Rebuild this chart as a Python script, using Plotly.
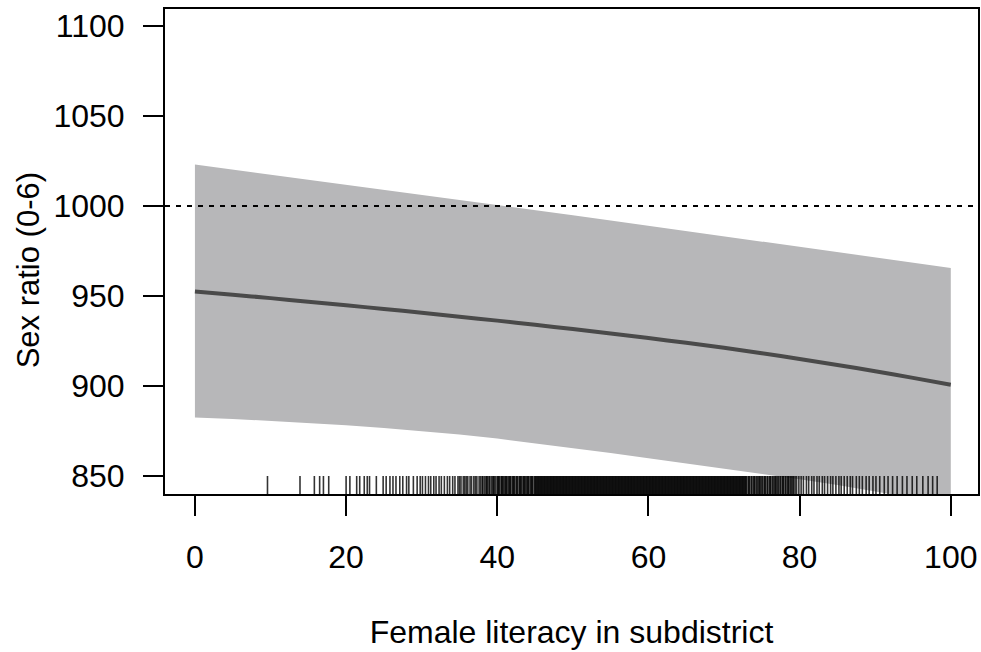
import plotly.graph_objects as go

# ---- data ----
x_grid = [0, 5, 10, 15, 20, 25, 30, 35, 40, 45, 50, 55, 60, 65, 70, 75, 80, 85, 90, 95, 100]
fit = [952.5, 950.7, 948.8, 946.8, 944.8, 942.8, 940.7, 938.5, 936.3, 934.0, 931.6,
       929.2, 926.6, 924.0, 921.2, 918.2, 915.0, 911.7, 908.2, 904.5, 900.7]
upper = [1023.0, 1020.2, 1017.5, 1014.7, 1012.0, 1009.1, 1006.2, 1003.3, 1000.5, 997.6, 994.8,
         991.9, 989.0, 986.0, 983.0, 980.2, 977.5, 974.5, 971.5, 968.5, 965.6]
lower = [882.5, 881.7, 880.6, 879.5, 878.2, 876.7, 875.0, 873.0, 870.8, 868.3, 865.6,
         862.8, 859.8, 856.8, 853.8, 851.0, 848.2, 845.0, 841.5, 837.9, 834.2]
ref_value = 1000

rug = [
    9.6, 13.9, 15.8, 16.5, 17.0, 17.7, 20.0, 20.5, 21.4, 21.8, 22.4, 22.8, 23.1, 24.0,
    24.9, 25.3, 25.8, 26.2, 26.6, 27.1, 27.5, 28.0, 28.3, 28.9, 29.4, 29.8,
    30.1, 30.5, 30.9, 31.2, 31.6, 31.9, 32.3, 32.6, 33.0, 33.4, 33.7, 34.1, 34.4, 34.8,
    35.0, 35.2, 35.5, 35.7, 35.9, 36.1, 36.4, 36.6, 36.9, 37.1, 37.3, 37.6, 37.8, 38.0,
    38.3, 38.5, 38.7, 38.9, 39.2, 39.4, 39.6, 39.8,
    40.0, 40.1, 40.3, 40.5, 40.6, 40.8, 41.0, 41.1, 41.3, 41.5, 41.7, 41.8, 42.0, 42.2,
    42.3, 42.5, 42.7, 42.9, 43.0, 43.2, 43.4, 43.5, 43.7, 43.9, 44.0, 44.2, 44.4, 44.5,
    44.7, 44.9, 45.0, 45.2, 45.3, 45.5, 45.7, 45.8, 46.0, 46.2, 46.3, 46.5, 46.7, 46.8,
    47.0, 47.2, 47.3, 47.5, 47.7, 47.9, 48.1, 48.2, 48.4, 48.6, 48.8, 49.0, 49.1, 49.3,
    49.5, 49.7, 49.9, 50.0, 50.2, 50.4, 50.6, 50.8, 50.9, 51.1, 51.3, 51.5, 51.7, 51.8,
    52.0, 52.2, 52.4, 52.6, 52.7, 52.9, 53.1, 53.3, 53.5, 53.6, 53.8, 54.0, 54.2, 54.4,
    54.5, 54.7, 54.9, 55.1, 55.3, 55.4, 55.6, 55.8, 56.0, 56.2, 56.3, 56.5, 56.7, 56.9,
    57.1, 57.2, 57.4, 57.6, 57.8, 58.0, 58.1, 58.3, 58.5, 58.7, 58.9, 59.0, 59.2, 59.4,
    59.6, 59.8, 59.9, 60.1, 60.3, 60.5, 60.7, 60.8, 61.0, 61.2, 61.4, 61.6, 61.7, 61.9,
    62.1, 62.3, 62.5, 62.6, 62.8, 63.0, 63.2, 63.4, 63.5, 63.7, 63.9, 64.1, 64.3, 64.4,
    64.6, 64.8, 65.0, 65.2, 65.3, 65.5, 65.7, 65.9, 66.1, 66.2, 66.4, 66.6, 66.8, 67.0,
    67.1, 67.3, 67.5, 67.7, 67.9, 68.0, 68.2, 68.4, 68.6, 68.8, 68.9, 69.1, 69.3, 69.5,
    69.7, 69.8, 70.0, 70.2, 70.4, 70.6, 70.7, 70.9, 71.1, 71.3, 71.5, 71.6, 71.8, 72.0,
    72.2, 72.4, 72.5, 72.7, 72.9,
    73.2, 73.4, 73.7, 73.9, 74.1, 74.4, 74.6, 74.8, 75.1, 75.3, 75.5, 75.8, 76.0, 76.2,
    76.5, 76.7, 76.9, 77.2, 77.4, 77.7, 77.9, 78.1, 78.4, 78.6, 78.9, 79.1, 79.4, 79.6, 79.9,
    80.2, 80.5, 80.9, 81.2, 81.6, 81.9, 82.3, 82.6, 83.0, 83.3, 83.7, 84.1, 84.4, 84.8,
    85.2, 85.5, 85.9, 86.3, 86.7, 87.0, 87.5, 87.9, 88.3, 88.8, 89.2, 89.7,
    90.1, 90.6, 91.2, 91.7, 92.3, 92.9, 93.6, 94.2, 94.9, 95.5, 96.3, 97.0, 97.6, 98.2,
    # second group of subdistricts in the dense middle of the distribution
    38.1, 38.6, 39.0, 39.5, 40.2, 40.7, 41.2, 41.6, 42.1, 42.6, 43.1, 43.6, 44.1, 44.6,
    45.1, 45.4, 45.6, 45.9, 46.1, 46.4, 46.6, 46.9, 47.1, 47.4, 47.6, 47.8, 48.0, 48.3,
    48.5, 48.7, 48.9, 49.2, 49.4, 49.6, 49.8, 50.1, 50.3, 50.5, 50.7, 51.0, 51.2, 51.4,
    51.6, 51.9, 52.1, 52.3, 52.5, 52.8, 53.0, 53.2, 53.4, 53.7, 53.9, 54.1, 54.3, 54.6,
    54.8, 55.0, 55.2, 55.5, 55.7, 55.9, 56.1, 56.4, 56.6, 56.8, 57.0, 57.3, 57.5, 57.7,
    57.9, 58.2, 58.4, 58.6, 58.8, 59.1, 59.3, 59.5, 59.7, 60.0, 60.2, 60.4, 60.6, 60.9,
    61.1, 61.3, 61.5, 61.8, 62.0, 62.2, 62.4, 62.7, 62.9, 63.1, 63.3, 63.6, 63.8, 64.0,
    64.2, 64.5, 64.7, 64.9, 65.1, 65.4, 65.6, 65.8, 66.0, 66.3, 66.5, 66.7, 66.9, 67.2,
    67.4, 67.6, 67.8, 68.1, 68.3, 68.5, 68.7, 69.0, 69.2, 69.4, 69.6, 69.9, 70.1, 70.3,
    70.5, 70.8, 71.0, 71.2, 71.4, 71.7, 71.9, 72.1, 72.3, 72.6, 72.8, 73.0, 73.3, 73.6,
    74.0, 74.3, 74.7, 75.0, 75.4, 75.7, 76.1, 76.4, 76.8, 77.1, 77.5, 77.8, 78.2, 78.5,
    78.8, 79.2,
]
rug_top = 850
rug_bottom = 840

x_ticks = [0, 20, 40, 60, 80, 100]
y_ticks = [850, 900, 950, 1000, 1050, 1100]
x_title = "Female literacy in subdistrict"
y_title = "Sex ratio (0-6)"

FONT = "Liberation Sans, Arial, sans-serif"

fig = go.Figure()

# confidence band
fig.add_trace(go.Scatter(
    x=x_grid + x_grid[::-1],
    y=upper + lower[::-1],
    fill="toself", fillcolor="#b7b7b9",
    line=dict(width=0), mode="lines", hoverinfo="skip", showlegend=False,
))

# rug: one vertical tick marker per observation (separate marks so overlaps darken)
fig.add_trace(go.Scatter(
    x=rug, y=[(rug_top + rug_bottom) / 2] * len(rug), mode="markers",
    marker=dict(symbol="line-ns", size=12.9, color="black",
                line=dict(color="rgba(0,0,0,0.8)", width=1.6)),
    hoverinfo="skip", showlegend=False,
))

# fitted line
fig.add_trace(go.Scatter(
    x=x_grid, y=fit, mode="lines",
    line=dict(color="#4a4a4a", width=4, shape="spline", smoothing=0.6),
    showlegend=False,
))

# reference line
fig.add_shape(type="line", xref="paper", x0=0, x1=1, yref="y", y0=ref_value, y1=ref_value,
              line=dict(color="black", width=2, dash="5px,6px"))

axis_common = dict(
    showline=True, mirror=True, linecolor="black", linewidth=2,
    ticks="outside", ticklen=20, tickwidth=2, tickcolor="black",
    showgrid=False, zeroline=False,
    tickfont=dict(family=FONT, size=32, color="black"),
)

fig.update_xaxes(range=[-3.96, 103.6], tickvals=x_ticks, ticktext=[str(t) for t in x_ticks],
                 ticklabelstandoff=14,
                 title=dict(text=x_title, font=dict(family=FONT, size=32, color="black"), standoff=46),
                 **axis_common)
fig.update_yaxes(range=[840, 1109.4], tickvals=y_ticks, ticktext=[str(t) for t in y_ticks],
                 ticklabelstandoff=12, **axis_common)

fig.add_annotation(text=y_title, textangle=-90, xref="paper", yref="paper",
                   x=-165 / 815 + 28 / 815, y=(494 - 270) / 485, xanchor="center", yanchor="middle",
                   showarrow=False, font=dict(family=FONT, size=31, color="black"))

fig.update_layout(
    width=981, height=652,
    margin=dict(l=165, r=1, t=9, b=158),
    plot_bgcolor="white", paper_bgcolor="white",
    font=dict(family=FONT, color="black"),
)

fig.write_html("out.html")
